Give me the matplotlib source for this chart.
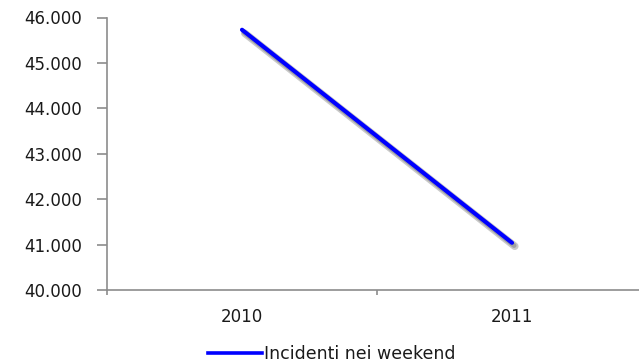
import matplotlib
matplotlib.use("Agg")
import matplotlib.pyplot as plt
import matplotlib.patheffects as pe
from matplotlib.lines import Line2D
from matplotlib.ticker import FuncFormatter, FixedLocator

years = ["2010", "2011"]
incidents = [45730, 41040]
series_label = "Incidenti nei weekend"
y_ticks = [40000, 41000, 42000, 43000, 44000, 45000, 46000]

fig = plt.figure(figsize=(6.39, 3.64), dpi=100)
ax = fig.add_axes([107 / 639, 1 - 290 / 364, 540 / 639, (290 - 17.5) / 364])

x = list(range(len(years)))
ax.plot(x, incidents, color="#0000ff", lw=3.0, solid_capstyle="round",
        path_effects=[pe.SimpleLineShadow(offset=(2.0, -2.5), shadow_color="#666666", alpha=0.35, linewidth=5.5),
                      pe.SimpleLineShadow(offset=(1.5, -2.0), shadow_color="#555555", alpha=0.35, linewidth=3.5),
                      pe.Normal()])

ax.set_xlim(-0.5, len(years) - 0.5)
ax.set_ylim(y_ticks[0], y_ticks[-1])
ax.set_xticks(x)
ax.set_xticklabels(years)
ax.xaxis.set_minor_locator(FixedLocator([i - 0.5 for i in range(len(years) + 1)]))
ax.set_yticks(y_ticks)
ax.yaxis.set_major_formatter(FuncFormatter(lambda v, p: f"{int(v):,}".replace(",", ".")))

for s in ("top", "right"):
    ax.spines[s].set_visible(False)
for s in ("left", "bottom"):
    ax.spines[s].set_color("#8c8c8c")
    ax.spines[s].set_linewidth(1.2)

ax.tick_params(axis="x", which="major", length=0, pad=13, labelsize=12, labelcolor="#1a1a1a")
ax.tick_params(axis="x", which="minor", length=3.5, width=1.2, color="#8c8c8c")
ax.tick_params(axis="y", length=7, width=1.2, color="#8c8c8c", pad=11, labelsize=12, labelcolor="#1a1a1a")

handle = Line2D([], [], color="#0000ff", lw=2.6)
leg = fig.legend([handle], [series_label], loc="center", bbox_to_anchor=(332 / 639, 1 - 354 / 364),
                 frameon=False, handlelength=3.1, handletextpad=0.1,
                 prop={"family": "DejaVu Sans", "size": 12.5})
for t in leg.get_texts():
    t.set_color("#1a1a1a")

fig.savefig("out.png", dpi=100)
